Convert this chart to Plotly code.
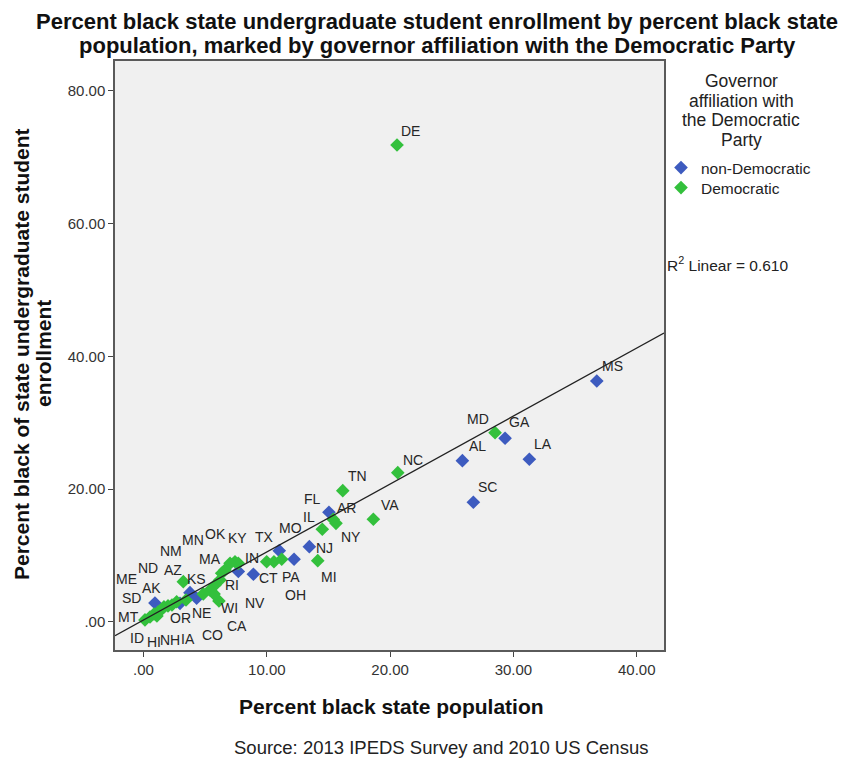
import numpy as np
import plotly.graph_objects as go

# ---- data ----
states = ["DE", "MS", "MD", "GA", "AL", "LA", "SC", "NC", "TN", "VA",
          "FL", "AR", "NY", "IL", "NJ", "MI", "TX", "OH", "MO", "PA",
          "CT", "IN", "NV", "KY", "OK", "MA", "WI", "WA", "KS", "RI",
          "MN", "CO", "CA", "IA", "NM", "AZ", "NE", "UT", "AK", "OR",
          "HI", "MT", "ID", "WY", "NH", "SD", "ME", "ND", "VT", "WV"]
pct_black_pop = [20.56, 36.76, 28.51, 29.32, 25.86, 31.29, 26.75, 20.62, 16.16, 18.64,
                 15.04, 15.39, 15.61, 14.50, 13.45, 14.13, 11.01, 12.21, 11.21, 10.58,
                 9.99, 8.91, 7.69, 7.69, 7.42, 7.02, 6.34, 6.61, 5.80, 6.20,
                 5.39, 6.12, 5.72, 4.85, 3.23, 3.77, 4.31, 2.96, 0.93, 3.45,
                 2.69, 0.12, 0.53, 0.85, 1.18, 1.42, 1.66, 1.99, 2.31, 1.09]
pct_black_enroll = [71.86, 36.28, 28.49, 27.65, 24.27, 24.48, 18.00, 22.46, 19.75, 15.44,
                    16.49, 15.41, 14.83, 13.93, 11.31, 9.20, 10.70, 9.41, 9.41, 9.04,
                    9.04, 7.15, 7.57, 8.80, 9.04, 8.80, 7.30, 7.79, 5.53, 6.29,
                    4.78, 3.12, 4.18, 4.18, 6.03, 4.37, 3.53, 2.77, 2.82, 3.27,
                    3.01, 0.26, 0.71, 1.16, 1.46, 1.76, 2.22, 2.37, 2.52, 0.86]
governor = ["D", "N", "D", "N", "N", "N", "N", "D", "D", "D",
            "N", "D", "D", "D", "N", "D", "N", "N", "D", "D",
            "D", "N", "N", "D", "D", "D", "D", "D", "D", "D",
            "D", "D", "D", "D", "D", "N", "N", "N", "N", "D",
            "D", "D", "D", "D", "D", "D", "D", "D", "D", "D"]
show_label = [s not in ("WA", "UT", "WY", "VT", "WV") for s in states]
x_ticks = [0, 10, 20, 30, 40]
x_tick_text = [".00", "10.00", "20.00", "30.00", "40.00"]
y_ticks = [0, 20, 40, 60, 80]
y_tick_text = [".00", "20.00", "40.00", "60.00", "80.00"]
r2_text = "R<sup>2</sup> Linear = 0.610"
title_lines = ["Percent black state undergraduate student enrollment by percent black state",
               "population, marked by governor affiliation with the Democratic Party"]
ytitle_lines = ["Percent black of state undergraduate student", "enrollment"]
legend_title_lines = ["Governor", "affiliation with", "the Democratic", "Party"]

# label offsets from each point (pixels, screen: right +, down +)
label_dx = [13, 16, -17, 14, 15, 14, 14, 15, 15, 17,
            -16, 13, 15, -13, 15, 11, -15, 1, 9, 17,
            2, -1, 17, -1, -19, -20, 8, 0, -19, 12,
            -17, -6, 23, -15, -12, -17, 5, 0, -3, -6,
            -23, -16, -13, 0, 12, -30, -37, -20, 0, 0]
label_dy = [-14, -15, -14, -16, -15, -15, -15, -13, -15, -14,
            -13, -11, 14, -12, 1, 16, -14, 36, -31, 15,
            16, -16, 32, -25, -28, -4, 35, 0, -6, 5,
            -50, 34, 32, 45, -31, -23, 15, 0, -15, 18,
            40, -3, 21, 0, 28, -12, -28, -38, 0, 0]

FONT = "Liberation Sans, Arial, sans-serif"
BLUE = "#3d5bbf"
GREEN = "#33c03c"

X_RANGE = [-2.31, 42.21]
Y_RANGE = [-4.27, 84.52]

# page has an 8px body margin; figure drawn at (8, 8)
OFF = 8
W, H = 860 - OFF, 759 - OFF
L, T = 115 - OFF, 61 - OFF
R = W - (664 - OFF)
B = H - (650 - OFF)
pw, ph = W - L - R, H - T - B


def px(x):  # page pixel x -> paper coordinate
    return (x - OFF - L) / pw


def py(y):  # page pixel y -> paper coordinate
    return (H - B - (y - OFF)) / ph


fig = go.Figure()

groups = [("N", "non-Democratic", BLUE, "legend"), ("D", "Democratic", GREEN, "legend2")]
for code, name, color, leg in groups:
    idx = [i for i, g in enumerate(governor) if g == code]
    fig.add_trace(go.Scatter(
        x=[pct_black_pop[i] for i in idx],
        y=[pct_black_enroll[i] for i in idx],
        text=[states[i] for i in idx],
        mode="markers", name=name, legend=leg,
        marker=dict(symbol="diamond", size=10.5, color=color, line=dict(width=0)),
        hovertemplate="%{text}: %{x:.2f}, %{y:.2f}<extra></extra>",
    ))

# linear fit line
slope, intercept = np.polyfit(pct_black_pop, pct_black_enroll, 1)
fx = np.array(X_RANGE)
fig.add_trace(go.Scatter(x=fx, y=intercept + slope * fx, mode="lines",
                         line=dict(color="#222222", width=1.3),
                         showlegend=False, hoverinfo="skip"))

annotations = []
for i, s in enumerate(states):
    if not show_label[i]:
        continue
    annotations.append(dict(
        x=pct_black_pop[i], y=pct_black_enroll[i], xref="x", yref="y",
        text=s, showarrow=False, xshift=label_dx[i], yshift=-label_dy[i],
        font=dict(family=FONT, size=14, color="#262626")))


def page_text(text, x, y, size, bold=False, anchor="center", angle=0, color="#222222"):
    return dict(x=px(x), y=py(y), xref="paper", yref="paper", showarrow=False,
                xanchor=anchor, yanchor="middle", textangle=angle,
                text=f"<b>{text}</b>" if bold else text,
                font=dict(family=FONT, size=size, color=color))


for k, line in enumerate(title_lines):
    annotations.append(page_text(line, 437, 22 + 23.5 * k, 22, bold=True, color="#111111"))
for k, line in enumerate(ytitle_lines):
    annotations.append(page_text(line, 21 + 22 * k, 354, 21, bold=True, angle=-90,
                                 color="#111111"))
annotations.append(page_text("Percent black state population", 391, 706, 21, bold=True,
                             color="#111111"))
annotations.append(page_text("Source: 2013 IPEDS Survey and 2010 US Census", 441, 747, 18.5))
for k, line in enumerate(legend_title_lines):
    annotations.append(page_text(line, 741, 81 + 19.5 * k, 17.5))
annotations.append(page_text(r2_text, 665, 264, 15.5, anchor="left"))

axis_common = dict(showline=True, linecolor="#5a5a5a", linewidth=1.5, mirror=True,
                   showgrid=False, zeroline=False, ticks="outside", ticklen=5,
                   tickcolor="#444444", tickwidth=1.2,
                   tickfont=dict(family=FONT, size=15, color="#333333"))

legend_common = dict(xanchor="left", yanchor="top", bgcolor="rgba(0,0,0,0)",
                     itemwidth=30, font=dict(family=FONT, size=15.5, color="#222222"))

fig.update_layout(
    width=W, height=H,
    margin=dict(l=L, r=R, t=T, b=B),
    paper_bgcolor="white", plot_bgcolor="#f0f0f0",
    xaxis=dict(range=X_RANGE, tickvals=x_ticks, ticktext=x_tick_text, **axis_common),
    yaxis=dict(range=Y_RANGE, tickvals=y_ticks, ticktext=y_tick_text, **axis_common),
    showlegend=True,
    legend=dict(x=px(661), y=py(151), **legend_common),
    legend2=dict(x=px(661), y=py(171), **legend_common),
    annotations=annotations,
)

fig.write_html("out.html")
